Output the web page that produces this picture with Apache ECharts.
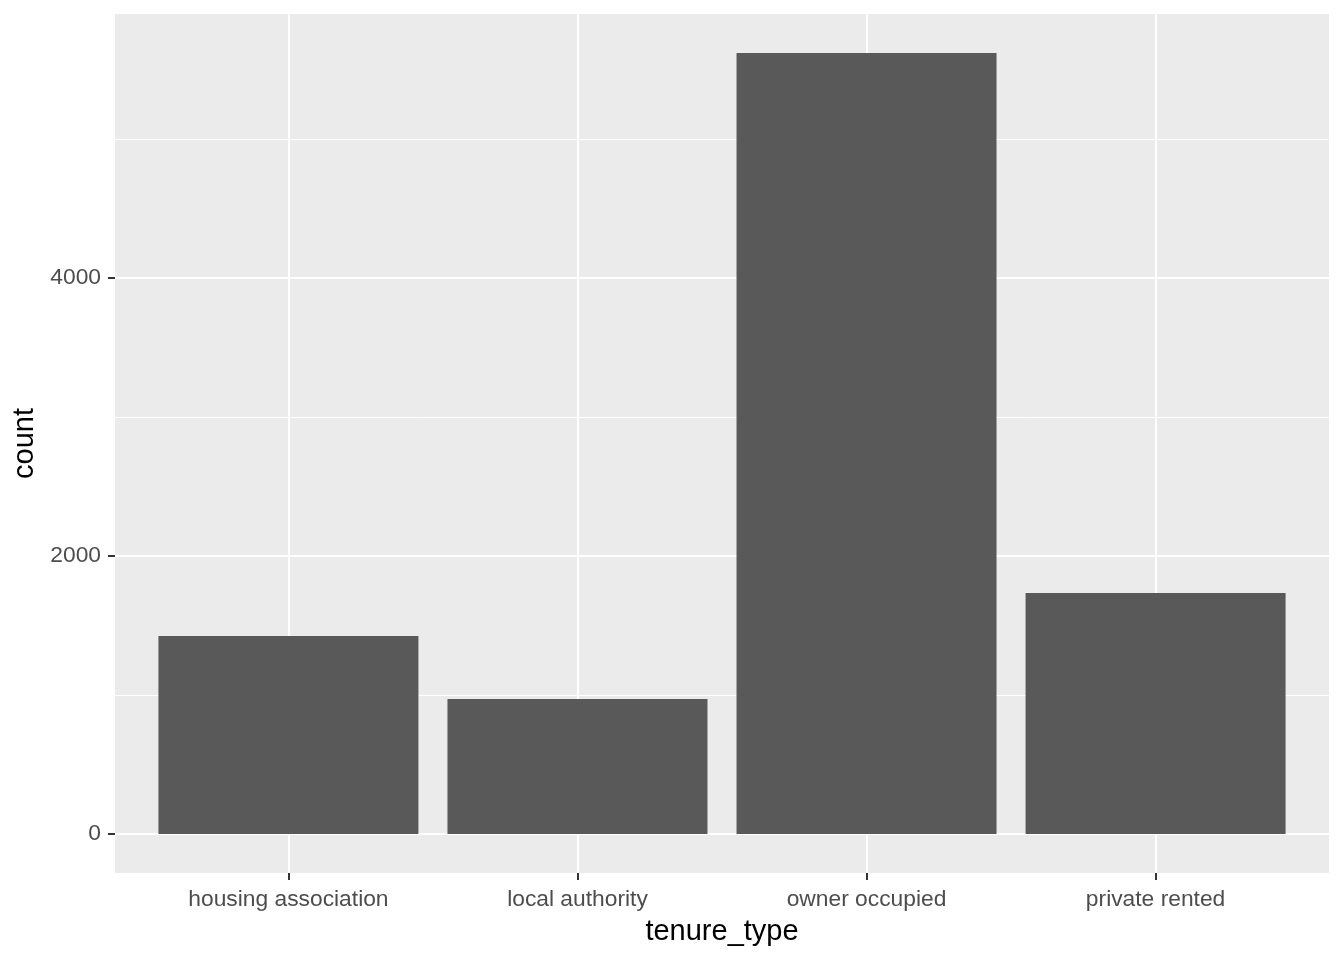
<!DOCTYPE html>
<html>
<head>
<meta charset="utf-8">
<script src="https://cdn.jsdelivr.net/npm/echarts@6/dist/echarts.min.js"></script>
<style>
html,body{margin:0;padding:0;background:#fff;}
#chart{width:1344px;height:960px;}
</style>
</head>
<body>
<div id="chart"></div>
<script>
const categories = ['housing association', 'local authority', 'owner occupied', 'private rented'];
const counts = [1424, 971, 5619, 1734];
const yMajorTicks = [0, 2000, 4000];
const yMinorTicks = [1000, 3000, 5000];
const xPositions = [1, 2, 3, 4];

const maxVal = Math.max(...counts);
const yMin = -0.05 * maxVal;
const yMax = maxVal * 1.05;
const font = 'Liberation Sans, Arial, sans-serif';

const chart = echarts.init(document.getElementById('chart'), null, {renderer: 'canvas'});
chart.setOption({
  animation: false,
  backgroundColor: '#ffffff',
  grid: {left: 115, right: 15, top: 14, bottom: 87, show: true, backgroundColor: '#EBEBEB', borderWidth: 0, containLabel: false, outerBoundsMode: 'none'},
  xAxis: {
    type: 'value', min: 0.4, max: 4.6, position: 'bottom',
    name: 'tenure_type', nameLocation: 'middle', nameGap: 44,
    nameTextStyle: {fontFamily: font, fontSize: 29, color: '#000'},
    axisLine: {show: false, onZero: false},
    axisTick: {show: true, customValues: xPositions, length: 7, lineStyle: {color: '#333333', width: 2}},
    axisLabel: {customValues: xPositions, formatter: v => categories[Math.round(v) - 1], fontFamily: font, fontSize: 22.8, color: '#4D4D4D', margin: 15},
    splitLine: {show: true, lineStyle: {color: '#ffffff', width: 2}}
  },
  yAxis: [{
    type: 'value', min: yMin, max: yMax, position: 'left',
    name: 'count', nameLocation: 'middle', nameGap: 68, nameRotate: 90,
    nameTextStyle: {fontFamily: font, fontSize: 29, color: '#000'},
    axisLine: {show: false, onZero: false},
    axisTick: {show: true, customValues: yMajorTicks, length: 7, lineStyle: {color: '#333333', width: 2}},
    axisLabel: {customValues: yMajorTicks, formatter: v => String(v), fontFamily: font, fontSize: 22.8, color: '#4D4D4D', margin: 14, padding: [3, 0, 0, 0]},
    splitLine: {show: true, lineStyle: {color: '#ffffff', width: 2}}
  }, {
    type: 'value', min: yMin, max: yMax, position: 'left',
    axisLine: {show: false, onZero: false},
    axisTick: {show: false, customValues: yMinorTicks},
    axisLabel: {show: false, customValues: yMinorTicks},
    splitLine: {show: true, lineStyle: {color: '#ffffff', width: 1}}
  }],
  series: [{
    type: 'bar',
    yAxisIndex: 0,
    data: counts.map((c, i) => [xPositions[i], c]),
    barWidth: 260,
    itemStyle: {color: '#595959'}
  }]
});
</script>
</body>
</html>
